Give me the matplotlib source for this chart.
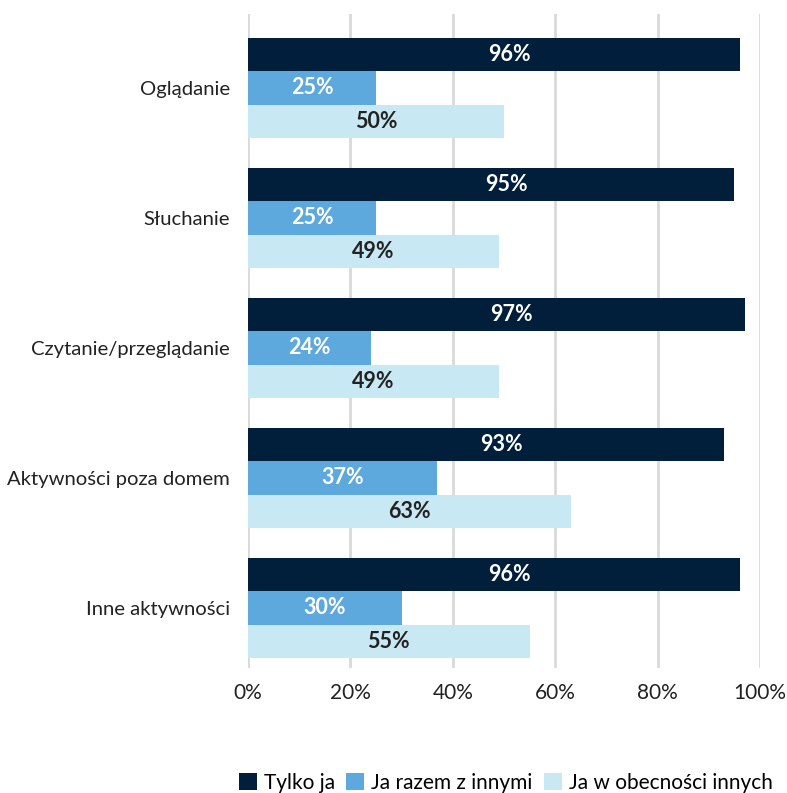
import numpy as np
import matplotlib.pyplot as plt
from matplotlib.ticker import FuncFormatter

plt.rcParams['font.family'] = ['Lato', 'DejaVu Sans']

categories = ["Oglądanie", "Słuchanie", "Czytanie/przeglądanie",
              "Aktywności poza domem", "Inne aktywności"]
series_names = ["Tylko ja", "Ja razem z innymi", "Ja w obecności innych"]
tylko_ja = [96, 95, 97, 93, 96]
razem = [25, 25, 24, 37, 30]
obecnosc = [50, 49, 49, 63, 55]

colors = ["#011F3A", "#5DA9DD", "#C8E8F3"]
text_colors = ["white", "white", "#222222"]

fig = plt.figure(figsize=(7.87, 7.93), dpi=100)
ax = fig.add_axes([248 / 787, 1 - 668 / 793, 512 / 787, 654 / 793])

y = np.arange(len(categories))
h = 0.254
offsets = [-h, 0, h]
for vals, off, col, tcol, name in zip([tylko_ja, razem, obecnosc], offsets,
                                      colors, text_colors, series_names):
    ax.barh(y + off, vals, height=h, color=col, label=name, zorder=2)
    for yi, v in zip(y, vals):
        xpos = v / 2 + (3 if col == colors[0] else 0)
        ax.text(xpos, yi + off, f"{v}%", ha="center", va="center",
                color=tcol, fontsize=15.5, fontweight="bold", zorder=3)

ax.set_xlim(0, 100)
ax.set_ylim(4 + 60 / 130, -74 / 130)
ax.set_xticks(range(0, 101, 20))
ax.xaxis.set_major_formatter(FuncFormatter(lambda v, p: f"{v:.0f}%"))
ax.set_yticks(y)
ax.set_yticklabels(categories, fontsize=14.6)
ax.tick_params(axis="both", length=0, colors="#222222")
ax.tick_params(axis="x", pad=11, labelsize=15)
ax.tick_params(axis="y", pad=13)
ax.grid(axis="x", color="#D9D9D9", linewidth=2, zorder=0)
for s in ax.spines.values():
    s.set_visible(False)

fig.legend(loc="center", bbox_to_anchor=(506 / 787, 10 / 793), ncol=3,
           frameon=False, fontsize=15, handlelength=0.85, handleheight=0.85,
           handletextpad=0.35, columnspacing=0.55)

fig.savefig("out.png", dpi=100)
